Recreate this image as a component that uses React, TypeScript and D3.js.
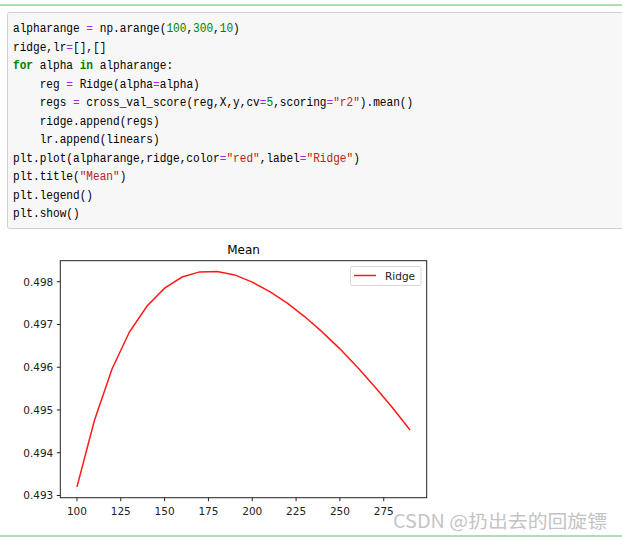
import React from "react";
import * as d3 from "d3";

const alphas = [100, 110, 120, 130, 140, 150, 160, 170, 180, 190, 200, 210, 220, 230, 240, 250, 260, 270, 280, 290];
const ridgeMeans = [0.4932, 0.49476, 0.49596, 0.49683, 0.49743, 0.49785, 0.49811, 0.49823, 0.49824, 0.49816, 0.49799, 0.49777, 0.4975, 0.49718, 0.49682, 0.49643, 0.496, 0.49554, 0.49505, 0.49453];
const xTicks = [100, 125, 150, 175, 200, 225, 250, 275];
const yTicks = [0.493, 0.494, 0.495, 0.496, 0.497, 0.498];
const chartTitle = "Mean";
const seriesLabel = "Ridge";
const watermark = "CSDN @扔出去的回旋镖";

type Tok = [string, string];
const P = "p", N = "n", K = "k", S = "s";
const codeLines: Tok[][] = [
  [["alpharange ", P], ["=", "op"], [" np.arange(", P], ["100", N], [",", P], ["300", N], [",", P], ["10", N], [")", P]],
  [["ridge,lr", P], ["=", "op"], ["[],[]", P]],
  [["for", K], [" alpha ", P], ["in", K], [" alpharange:", P]],
  [["    reg ", P], ["=", "op"], [" Ridge(alpha", P], ["=", "op"], ["alpha)", P]],
  [["    regs ", P], ["=", "op"], [" cross_val_score(reg,X,y,cv", P], ["=", "op"], ["5", N], [",scoring", P], ["=", "op"], ["\"r2\"", S], [").mean()", P]],
  [["    ridge.append(regs)", P]],
  [["    lr.append(linears)", P]],
  [["plt.plot(alpharange,ridge,color", P], ["=", "op"], ["\"red\"", S], [",label", P], ["=", "op"], ["\"Ridge\"", S], [")", P]],
  [["plt.title(", P], ["\"Mean\"", S], [")", P]],
  [["plt.legend()", P]],
  [["plt.show()", P]],
];

const colorOf: Record<string, string> = { p: "#000", op: "#aa22ff", n: "#008000", k: "#008000", s: "#ba2121" };

export default function App() {
  const W = 622, H = 540;
  const frame = { l: 60.3, t: 260.7, r: 426.7, b: 497.7 };
  const xExt = d3.extent(alphas) as [number, number];
  const xPad = (xExt[1] - xExt[0]) * 0.05;
  const yExt = d3.extent(ridgeMeans) as [number, number];
  const yPad = (yExt[1] - yExt[0]) * 0.05;
  const x = d3.scaleLinear().domain([xExt[0] - xPad, xExt[1] + xPad]).range([frame.l, frame.r]);
  const y = d3.scaleLinear().domain([yExt[0] - yPad, yExt[1] + yPad]).range([frame.b, frame.t]);
  const line = d3.line<number>().x((_, i) => x(alphas[i])).y((d) => y(d));

  const codeFont = 13.5;
  const natW = codeFont * 0.6; // Liberation Mono advance
  const charW = 6.67;
  const sx = charW / natW;
  const codeX = 13;
  const codeY0 = 32.5;
  const lineH = 18.5;

  const codeEls: React.ReactNode[] = [];
  codeLines.forEach((toks, li) => {
    let col = 0;
    toks.forEach((t, ti) => {
      const [txt, kind] = t;
      const lead = txt.length - txt.trimStart().length;
      const body = txt.trim();
      if (body.length > 0) {
        codeEls.push(
          <text
            key={`${li}-${ti}`}
            x={(col + lead) * natW}
            y={codeY0 + li * lineH}
            fill={colorOf[kind]}
            fontWeight={kind === "k" ? "bold" : "normal"}
            style={{ whiteSpace: "pre" }}
          >
            {body}
          </text>
        );
      }
      col += txt.length;
    });
  });

  const font = "DejaVu Sans, sans-serif";

  return (
    <svg width={W} height={H} style={{ position: "absolute", left: 0, top: 0, background: "#fff" }}>
      <line x1={0} x2={W} y1={5} y2={5} stroke="#66bb6a" strokeWidth={1} />
      <rect x={7.5} y={12.5} width={W} height={216} fill="#f7f7f7" stroke="#cfcfcf" strokeWidth={1} rx={2} />
      <g
        transform={`translate(${codeX},0) scale(${sx},1)`}
        fontFamily="Liberation Mono, DejaVu Sans Mono, monospace"
        fontSize={codeFont}
      >
        {codeEls}
      </g>

      <text x={(frame.l + frame.r) / 2} y={254} textAnchor="middle" fontFamily={font} fontSize={12} fill="#000">
        {chartTitle}
      </text>
      <path d={line(ridgeMeans) || ""} fill="none" stroke="#ff1a1a" strokeWidth={1.5} />
      <rect x={frame.l} y={frame.t} width={frame.r - frame.l} height={frame.b - frame.t} fill="none" stroke="#222" strokeWidth={1} />
      {yTicks.map((t) => (
        <g key={t}>
          <line x1={frame.l - 3.5} x2={frame.l} y1={y(t)} y2={y(t)} stroke="#222" strokeWidth={1} />
          <text x={frame.l - 7} y={y(t) + 3.8} textAnchor="end" fontFamily={font} fontSize={10.5} fill="#222">
            {d3.format(".3f")(t)}
          </text>
        </g>
      ))}
      {xTicks.map((t) => (
        <g key={t}>
          <line x1={x(t)} x2={x(t)} y1={frame.b} y2={frame.b + 3.5} stroke="#222" strokeWidth={1} />
          <text x={x(t)} y={514.5} textAnchor="middle" fontFamily={font} fontSize={10.5} fill="#222">
            {t}
          </text>
        </g>
      ))}
      <rect x={350.5} y={266.5} width={70.5} height={19} fill="#fff" stroke="#d8d8d8" strokeWidth={1} rx={2} />
      <line x1={354} x2={376} y1={275.5} y2={275.5} stroke="#ff1a1a" strokeWidth={1.5} />
      <text x={385} y={279.5} fontFamily={font} fontSize={10.5} fill="#222">
        {seriesLabel}
      </text>

      <text x={393} y={528} fontFamily="Noto Sans CJK SC, sans-serif" fontSize={18.5} fill="#c4c4c4" textLength={214} lengthAdjust="spacingAndGlyphs">
        {watermark}
      </text>
      <line x1={0} x2={W} y1={536} y2={536} stroke="#66bb6a" strokeWidth={1} />
    </svg>
  );
}
